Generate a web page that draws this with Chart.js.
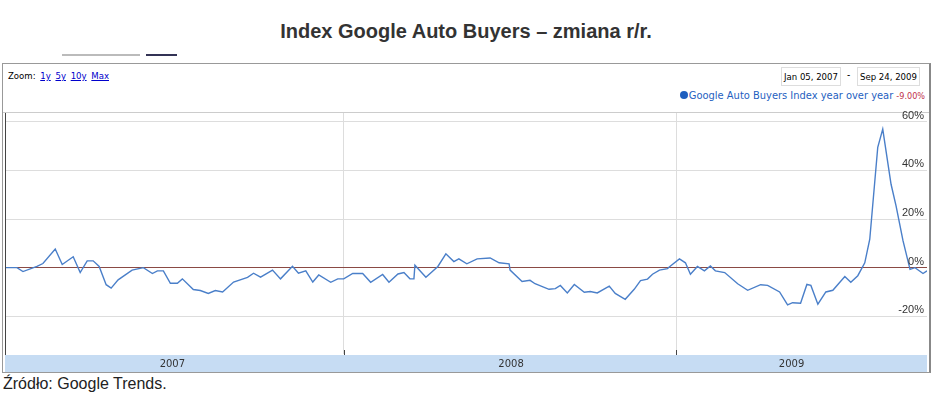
<!DOCTYPE html>
<html>
<head>
<meta charset="utf-8">
<script src="https://cdn.jsdelivr.net/npm/chart.js@4"></script>
<style>
  body { margin: 0; width: 932px; height: 403px; background: #fff; position: relative; font-family: "Liberation Sans", Arial, sans-serif; overflow: hidden; }
  #title { position: absolute; top: 20px; left: 0; width: 932px; text-align: center; font-weight: bold; font-size: 20px; color: #333; }
  .tab { position: absolute; top: 54px; height: 2px; }
  #frame { position: absolute; left: 2px; top: 63px; width: 926px; height: 308px; border: 1px solid #999; border-right: 2px solid #888; }
  .narrow { font-family: "DejaVu Sans Condensed", "Liberation Sans Narrow", sans-serif; }
  #zoom { position: absolute; left: 8px; top: 70px; font-size: 9.5px; color: #000; }
  #zoom a { color: #00c; text-decoration: underline; margin-left: 2px; }
  .date { position: absolute; top: 67px; height: 17px; line-height: 17px; border: 1px solid #ddd; font-size: 9.5px; padding: 0 2px; }
  #legend { position: absolute; right: 7px; top: 89px; font-size: 11px; color: #1f5fbf; }
  #legend .dot { display: inline-block; width: 8px; height: 8px; border-radius: 50%; background: #1f5fbf; margin-right: 1px; }
  #legend .val { color: #c0304a; font-size: 9px; }
  #sep { position: absolute; left: 3px; top: 112px; width: 926px; height: 1px; background: #ccc; }
  #wrap { position: absolute; left: 5px; top: 106px; width: 922px; height: 266px; }
  #source { position: absolute; left: 3px; top: 375px; font-size: 16px; color: #222; }
</style>
</head>
<body>
<div id="title">Index Google Auto Buyers – zmiana r/r.</div>
<div class="tab" style="left:62px;width:78px;background:#bbb"></div>
<div class="tab" style="left:146px;width:31px;background:#335"></div>
<div id="frame"></div>
<div id="zoom" class="narrow">Zoom: <a>1y</a> <a>5y</a> <a>10y</a> <a>Max</a></div>
<div class="date narrow" style="left:781px">Jan 05, 2007</div>
<div class="narrow" style="position:absolute;left:847px;top:69px;font-size:10px">-</div>
<div class="date narrow" style="left:857px">Sep 24, 2009</div>
<div id="legend" class="narrow"><span class="dot"></span>Google Auto Buyers Index year over year <span class="val">-9.00%</span></div>
<div id="sep"></div>
<div id="wrap"><canvas id="chart"></canvas></div>
<div id="source">Źródło: Google Trends.</div>
<script>
// ====================== Data ======================
// time as fractional year, value = year over year change in %
const DATES = [
  2006.982, 2007.018, 2007.036, 2007.078, 2007.096, 2007.133, 2007.154, 2007.187, 2007.208, 2007.229,
  2007.247, 2007.265, 2007.286, 2007.301, 2007.322, 2007.364, 2007.398, 2007.425, 2007.440, 2007.458,
  2007.479, 2007.500, 2007.515, 2007.548, 2007.569, 2007.593, 2007.614, 2007.636, 2007.669, 2007.711,
  2007.729, 2007.750, 2007.786, 2007.810, 2007.846, 2007.864, 2007.886, 2007.907, 2007.925, 2007.961,
  2007.982, 2008.000, 2008.027, 2008.057, 2008.081, 2008.117, 2008.136, 2008.163, 2008.181, 2008.199,
  2008.211, 2008.214, 2008.247, 2008.283, 2008.307, 2008.331, 2008.346, 2008.370, 2008.401, 2008.440,
  2008.467, 2008.497, 2008.500, 2008.536, 2008.560, 2008.575, 2008.617, 2008.636, 2008.651, 2008.672,
  2008.693, 2008.723, 2008.741, 2008.762, 2008.798, 2008.816, 2008.846, 2008.873, 2008.892, 2008.913,
  2008.928, 2008.949, 2008.973, 2008.982, 2009.009, 2009.027, 2009.042, 2009.063, 2009.084, 2009.102,
  2009.117, 2009.145, 2009.184, 2009.214, 2009.253, 2009.274, 2009.310, 2009.334, 2009.349, 2009.373,
  2009.392, 2009.404, 2009.425, 2009.449, 2009.470, 2009.506, 2009.524, 2009.545, 2009.566, 2009.581,
  2009.605, 2009.620, 2009.645, 2009.660, 2009.681, 2009.702, 2009.717, 2009.741, 2009.753
];
const VALUES = [
  0, 0, -1.6, 0.5, 1.7, 7.7, 1.3, 4.5, -2, 2.8,
  2.8, 0.5, -7, -8.4, -5, -1, 0, -2.4, -1.3, -1.3,
  -6.4, -6.4, -4.6, -9, -9.4, -10.6, -9.4, -10, -5.9, -4,
  -2.3, -3.9, -1, -4.6, 0.6, -2.3, -1.3, -5.9, -3, -6,
  -4.6, -4.6, -2.4, -2.4, -6, -2.8, -6, -2.6, -2, -4.6,
  -4.6, 1, -3.9, 0.5, 5.7, 2.5, 3.6, 1.6, 3.6, 4,
  2, 1.6, -1, -5.7, -5.2, -6.6, -8.9, -8.6, -7.3, -10.4,
  -6.9, -10.1, -9.8, -10.4, -7.6, -10.6, -13, -8.9, -5.3, -4.7,
  -2.7, -1, -0.4, 0.7, 3.6, 2, -2.7, 0.5, -1.3, 0.7,
  -1.3, -2, -6.6, -9.3, -7, -7.3, -10, -15.3, -14.4, -14.6,
  -6.9, -7.3, -15, -10, -9.3, -3.6, -6, -3.3, 2, 11.7,
  49.5, 57, 34.3, 25.4, 11, -0.7, 0, -2.4, -1.3
];
const Y_TICKS = [-20, 0, 20, 40, 60];
const YEARS = ["2007", "2008", "2009"];
const YEAR_LABEL_AT = [2007.485, 2008.503, 2009.346];
const YEAR_BOUNDS = [2008, 2009];

// ====================== Plugin: labels and year band ======================
const decor = {
  id: "decor",
  afterDraw(chart) {
    const { ctx, chartArea: a, scales: { x, y } } = chart;
    ctx.save();
    ctx.font = "11px 'Liberation Sans', Arial";
    ctx.fillStyle = "#333";
    ctx.textAlign = "right";
    ctx.textBaseline = "bottom";
    Y_TICKS.forEach(v => ctx.fillText(v + "%", a.right - 3, y.getPixelForValue(v) - 0.5));
    // year band
    ctx.fillStyle = "#c6dcf3";
    ctx.fillRect(a.left, a.bottom + 1, a.right - a.left, 17);
    ctx.strokeStyle = "#444";
    ctx.lineWidth = 1;
    ctx.beginPath();
    ctx.moveTo(a.left + 0.5, a.top); ctx.lineTo(a.left + 0.5, a.bottom + 1);
    YEAR_BOUNDS.forEach(b => {
      const px = Math.round(x.getPixelForValue(b)) + 0.5;
      ctx.moveTo(px, a.bottom - 4); ctx.lineTo(px, a.bottom + 1);
    });
    ctx.stroke();
    ctx.fillStyle = "#333";
    ctx.font = "10px 'DejaVu Sans', sans-serif";
    ctx.textAlign = "center";
    ctx.textBaseline = "middle";
    YEARS.forEach((t, i) => ctx.fillText(t, x.getPixelForValue(YEAR_LABEL_AT[i]), a.bottom + 10));
    ctx.restore();
  }
};

// ====================== Chart ======================
new Chart(document.getElementById("chart"), {
  type: "line",
  data: {
    datasets: [{
      data: DATES.map((d, i) => ({ x: d, y: VALUES[i] })),
      borderColor: "#4a7fc9",
      borderWidth: 1.4,
      pointRadius: 0,
      tension: 0
    }]
  },
  options: {
    responsive: true,
    maintainAspectRatio: false,
    animation: false,
    layout: { padding: { top: 7, bottom: 18 } },
    plugins: { legend: { display: false }, tooltip: { enabled: false } },
    scales: {
      x: {
        type: "linear", min: 2006.982, max: 2009.753,
        afterBuildTicks: s => { s.ticks = YEAR_BOUNDS.map(v => ({ value: v })); },
        ticks: { display: false },
        grid: { color: "#ddd", drawTicks: false },
        border: { display: false }
      },
      y: {
        min: -35.5, max: 63.6,
        afterBuildTicks: s => { s.ticks = Y_TICKS.map(v => ({ value: v })); },
        ticks: { display: false },
        grid: { color: c => c.tick.value === 0 ? "#8a4a44" : "#ddd", drawTicks: false },
        border: { display: false }
      }
    }
  },
  plugins: [decor]
});
</script>
</body>
</html>
